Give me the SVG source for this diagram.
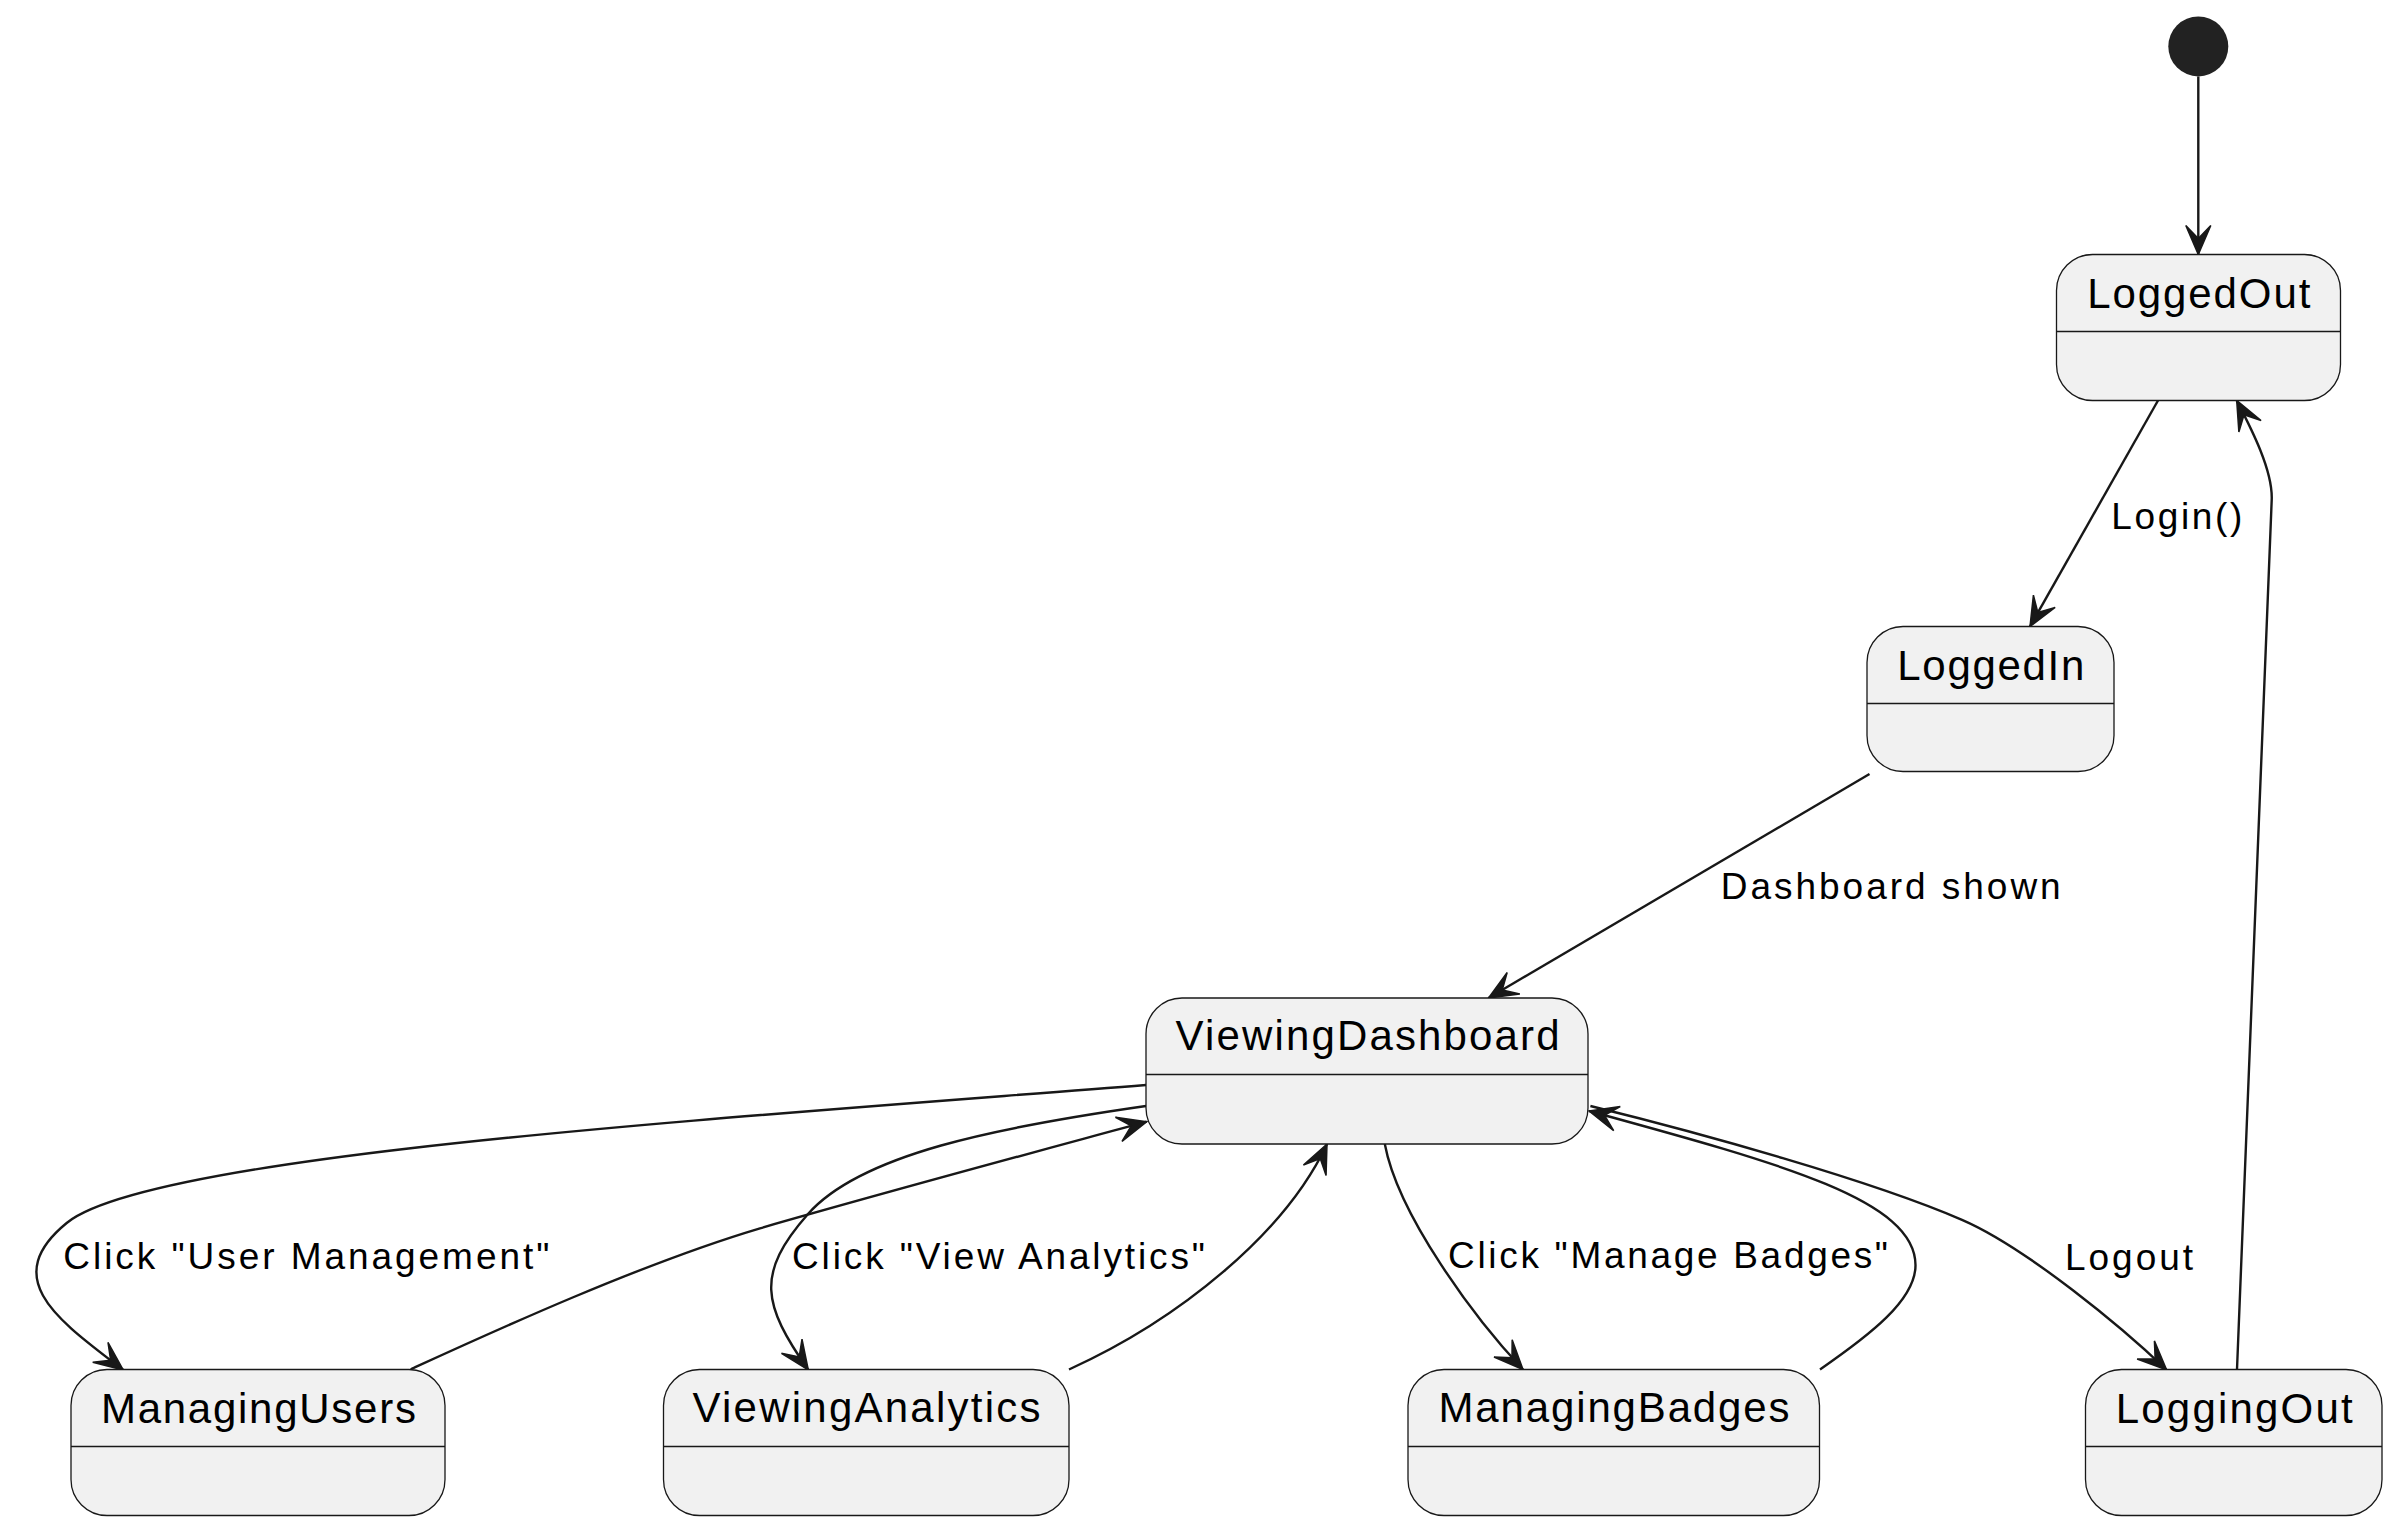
<svg xmlns="http://www.w3.org/2000/svg" width="2400" height="1533" viewBox="0 0 2400 1533">
<defs>
<style>
.st rect{fill:#F1F1F1;stroke:#181818;stroke-width:1.3}
.st line{stroke:#181818;stroke-width:1.3}
.name{font-family:"Liberation Sans",Arial,sans-serif;font-size:42px;fill:#000;text-anchor:middle}
.lbl{font-family:"Liberation Sans",Arial,sans-serif;font-size:37px;fill:#000}
#connectors path{fill:none;stroke:#181818;stroke-width:2.4;marker-end:url(#ah)}
</style>
<marker id="ah" markerUnits="userSpaceOnUse" orient="auto" refX="0" refY="0" markerWidth="1" markerHeight="1" overflow="visible">
<path d="M0,0 L-29,-12.5 L-16,0 L-29,12.5 Z" fill="#181818" stroke="#181818" stroke-width="1.5" stroke-linejoin="miter"/>
</marker>
</defs>
<rect width="2400" height="1533" fill="#FFFFFF"/>

<g id="connectors">
<path d="M2198.3,76.5 L2198.3,254.5"/>
<path d="M2158,400.5 L2030,626.5"/>
<path d="M2237,1369.5 L2271.7,500 C2273,470 2250.2,426.7 2236.7,400.5"/>
<path d="M1869.5,774 L1488.5,998"/>
<path d="M1146,1085 C700,1120 150,1155 66.7,1223 C-2.6,1279.7 60.1,1321.2 123.3,1370"/>
<path d="M1146,1106 C997.5,1127.3 860.8,1154 808,1214 C755.2,1274 762.7,1304.4 808.3,1370"/>
<path d="M410.7,1369.3 C490,1333 640,1264 760,1228.3 C900,1188 1050,1148 1146.7,1121.7"/>
<path d="M1069,1369.5 C1178,1320 1285,1234 1327,1144"/>
<path d="M1384.8,1144 C1398,1215 1474.7,1318.4 1523,1369.5"/>
<path d="M1820,1369.5 C1870,1335 1915.5,1300 1915.5,1265.3 C1915.5,1200 1781.8,1163.8 1589,1111"/>
<path d="M1590.4,1106 C1700,1133 1870,1180 1962,1219.8 C2026.3,1247.6 2123.5,1328.6 2166.7,1370"/>
<text class="lbl" x="2111.3" y="529" textLength="131" lengthAdjust="spacing">Login()</text>
<text class="lbl" x="1720.7" y="899" textLength="340" lengthAdjust="spacing">Dashboard shown</text>
<text class="lbl" x="63.3" y="1269" textLength="486" lengthAdjust="spacing">Click "User Management"</text>
<text class="lbl" x="792" y="1269" textLength="413" lengthAdjust="spacing">Click "View Analytics"</text>
<text class="lbl" x="1448" y="1268" textLength="440" lengthAdjust="spacing">Click "Manage Badges"</text>
<text class="lbl" x="2065" y="1269.5" textLength="128" lengthAdjust="spacing">Logout</text>
</g>

<g id="start"><circle cx="2198.3" cy="46.4" r="30" fill="#222222"/></g>

<g id="LoggedOut" class="st">
<rect x="2056.5" y="254.5" width="284" height="146" rx="36"/>
<line x1="2056.5" y1="331.5" x2="2340.5" y2="331.5"/>
<text class="name" x="2198.8" y="307.5" textLength="223" lengthAdjust="spacing">LoggedOut</text>
</g>
<g id="LoggedIn" class="st">
<rect x="1867" y="626.5" width="247" height="145" rx="36"/>
<line x1="1867" y1="703.5" x2="2114" y2="703.5"/>
<text class="name" x="1990.8" y="679.5" textLength="187" lengthAdjust="spacing">LoggedIn</text>
</g>
<g id="ViewingDashboard" class="st">
<rect x="1146" y="998" width="442" height="146" rx="36"/>
<line x1="1146" y1="1074.5" x2="1588" y2="1074.5"/>
<text class="name" x="1367.6" y="1050" textLength="384" lengthAdjust="spacing">ViewingDashboard</text>
</g>
<g id="ManagingUsers" class="st">
<rect x="71" y="1369.5" width="374" height="146" rx="36"/>
<line x1="71" y1="1446.5" x2="445" y2="1446.5"/>
<text class="name" x="258.4" y="1422.5" textLength="315" lengthAdjust="spacing">ManagingUsers</text>
</g>
<g id="ViewingAnalytics" class="st">
<rect x="663.5" y="1369.5" width="405.5" height="146" rx="36"/>
<line x1="663.5" y1="1446.5" x2="1069" y2="1446.5"/>
<text class="name" x="866.5" y="1422" textLength="348" lengthAdjust="spacing">ViewingAnalytics</text>
</g>
<g id="ManagingBadges" class="st">
<rect x="1408" y="1369.5" width="411.5" height="146" rx="36"/>
<line x1="1408" y1="1446.5" x2="1819.5" y2="1446.5"/>
<text class="name" x="1614" y="1421.5" textLength="351" lengthAdjust="spacing">ManagingBadges</text>
</g>
<g id="LoggingOut" class="st">
<rect x="2085.5" y="1369.5" width="296.5" height="146" rx="36"/>
<line x1="2085.5" y1="1446.5" x2="2382" y2="1446.5"/>
<text class="name" x="2234.2" y="1422.5" textLength="237" lengthAdjust="spacing">LoggingOut</text>
</g>
</svg>
